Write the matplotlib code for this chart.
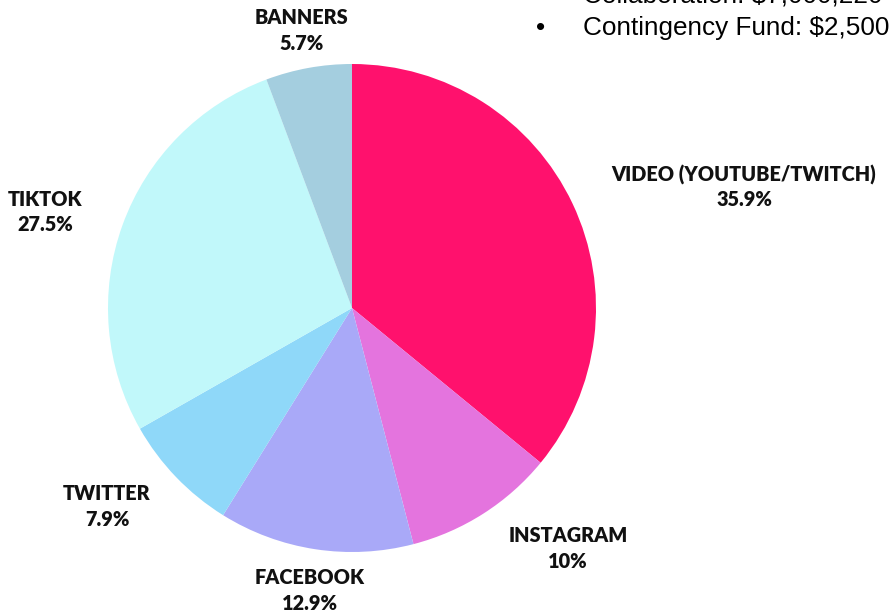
import matplotlib.pyplot as plt

# marketing budget split (percent)
channels = ['VIDEO (YOUTUBE/TWITCH)', 'INSTAGRAM', 'FACEBOOK', 'TWITTER', 'TIKTOK', 'BANNERS']
shares = [35.9, 10, 12.9, 7.9, 27.5, 5.7]
share_labels = ['35.9%', '10%', '12.9%', '7.9%', '27.5%', '5.7%']
colors = ['#FF116D', '#E474DE', '#A9A9F8', '#8FD8F9', '#C1F8FA', '#A4CEDF']

# label centres in pixels (x, y from top)
label_pos = [(744, 175), (568, 536), (310, 578), (107, 494), (45, 200), (302, 18)]

W, H = 892, 614
fig = plt.figure(figsize=(W / 100, H / 100), dpi=100)

# pie centre approx (352, 308), radius 244 px
ax = fig.add_axes([108 / W, (H - 552) / H, 488 / W, 488 / H])
ax.pie(shares, colors=colors, startangle=90, counterclock=False, radius=1,
       wedgeprops={'linewidth': 0})
ax.set_xlim(-1, 1)
ax.set_ylim(-1, 1)
ax.axis('off')

for name, pct, (px, py) in zip(channels, share_labels, label_pos):
    fig.text(px / W, 1 - py / H, name, ha='center', va='center',
             fontsize=14.3, fontweight='heavy', family='Lato', color='#111111')
    fig.text(px / W, 1 - (py + 25) / H, pct, ha='center', va='center',
             fontsize=14.3, fontweight='heavy', family='Lato', color='#111111')

# leftover text from the slide, cut by the top/right edges
fig.text(583 / W, 1 - (-5) / H, 'Collaboration: $7,000,220', ha='left', va='center',
         fontsize=18.8, family='Liberation Sans', color='#000000')
fig.text(536 / W, 1 - 28 / H, '\u2022', ha='left', va='center',
         fontsize=18.8, family='Liberation Sans', color='#000000')
fig.text(583 / W, 1 - 28 / H, 'Contingency Fund: $2,500', ha='left', va='center',
         fontsize=18.8, family='Liberation Sans', color='#000000')

plt.savefig('out.png', dpi=100)
